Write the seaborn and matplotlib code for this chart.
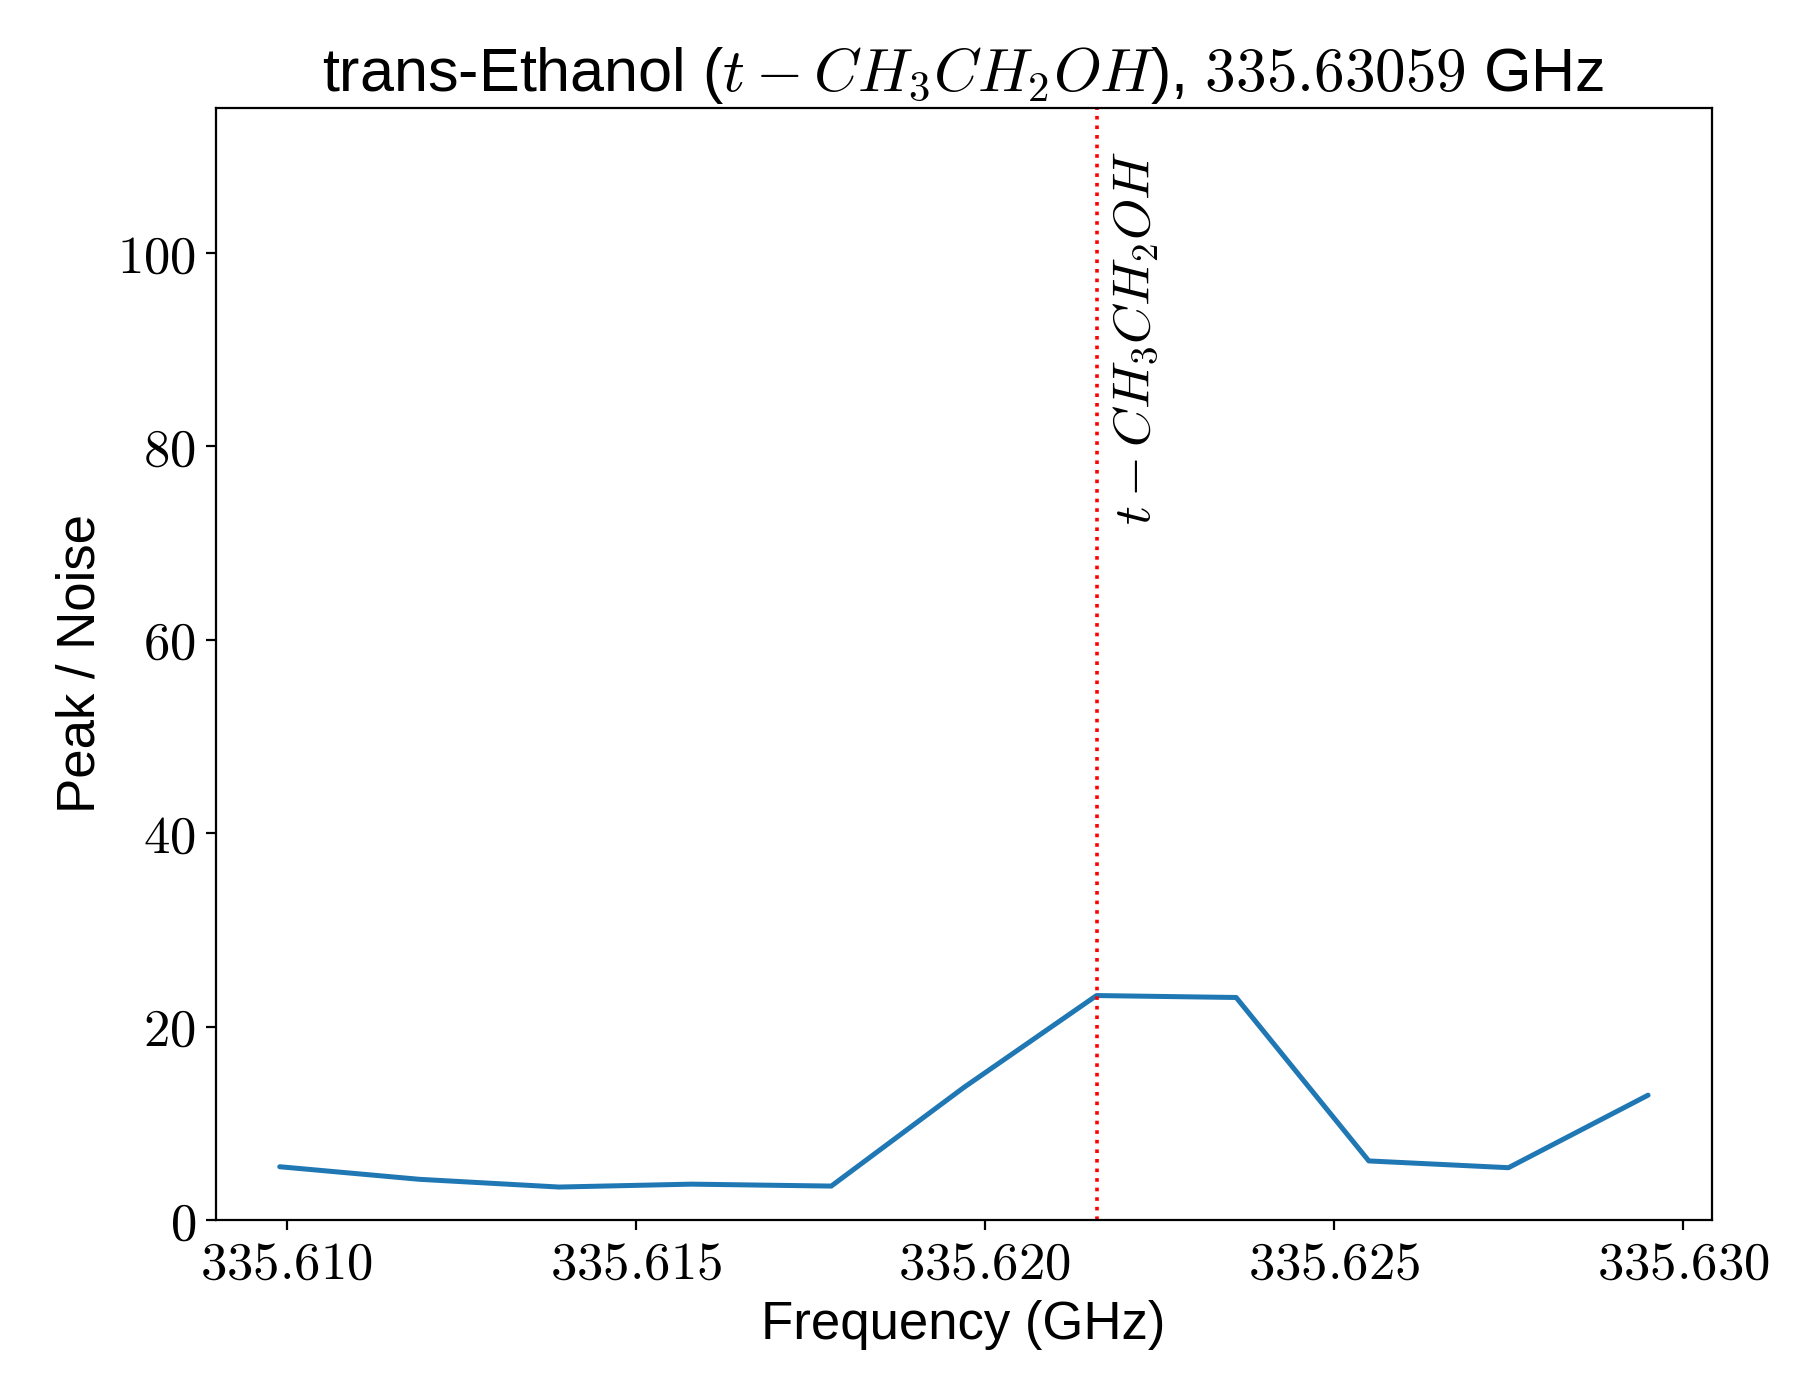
import matplotlib
matplotlib.use("Agg")
import matplotlib.pyplot as plt
import matplotlib.ticker as mticker
import seaborn as sns
import pandas as pd

freq_ghz = [335.6099, 335.6119, 335.6139, 335.6158, 335.6178, 335.6197,
            335.6216, 335.6236, 335.6255, 335.6275, 335.6295]
peak_noise = [5.5, 4.2, 3.4, 3.7, 3.5, 13.7, 23.2, 23.0, 6.1, 5.4, 12.9]
line_freq = 335.6216
line_label = r"$t-CH_3CH_2OH$"

sns.set_style("ticks")
plt.rcParams["font.family"] = ["Liberation Sans", "DejaVu Sans"]
plt.rcParams["mathtext.fontset"] = "cm"
plt.rcParams["text.color"] = "black"
plt.rcParams["axes.labelcolor"] = "black"
plt.rcParams["xtick.color"] = "black"
plt.rcParams["ytick.color"] = "black"

df = pd.DataFrame({"freq": freq_ghz, "snr": peak_noise})
fig, ax = plt.subplots(figsize=(8.98, 6.995), dpi=200)
sns.lineplot(data=df, x="freq", y="snr", ax=ax, color="#1f77b4", linewidth=1.8)
ax.axvline(line_freq, color="red", linestyle=":", linewidth=1.3)
ax.text(line_freq + 0.0002, 110.5, line_label, rotation=90, va="top", ha="left",
        fontsize=19, color="black")

ax.set_xlim(335.60898, 335.63041)
ax.set_ylim(0, 115)
ax.set_xticks([335.610, 335.615, 335.620, 335.625, 335.630])
ax.xaxis.set_major_formatter(mticker.FuncFormatter(lambda v, p: f"${v:.3f}$"))
ax.yaxis.set_major_locator(mticker.MultipleLocator(20))
ax.yaxis.set_major_formatter(mticker.FuncFormatter(lambda v, p: f"${v:.0f}$"))
ax.tick_params(labelsize=19)
for s in ax.spines.values():
    s.set_visible(True)
    s.set_color("black")
ax.set_xlabel("Frequency (GHz)", fontsize=19)
ax.set_ylabel("Peak / Noise", fontsize=19)
ax.set_title(r"trans-Ethanol ($t-CH_3CH_2OH$), $335.63059$ GHz", fontsize=22)
fig.subplots_adjust(left=0.12, right=0.953, top=0.923, bottom=0.128)
fig.savefig("out.png", dpi=200)
